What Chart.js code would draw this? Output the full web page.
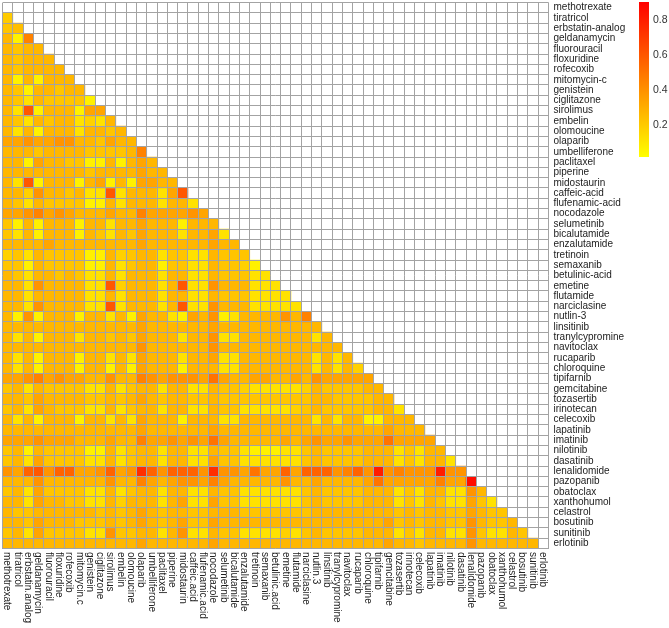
<!DOCTYPE html>
<html><head><meta charset="utf-8">
<script src="https://cdn.jsdelivr.net/npm/chart.js@4.4.1/dist/chart.umd.min.js"></script>
<style>
html,body{margin:0;padding:0;background:#fff;}
#main{position:absolute;left:0;top:0;width:669px;height:628px;}
#cb{position:absolute;left:639px;top:2px;width:30px;height:155px;}
</style></head><body>
<div id="main"><canvas id="c1"></canvas></div>
<div id="cb"><canvas id="c2"></canvas></div>
<script>
const rowLabels = ['methotrexate','tiratricol','erbstatin-analog','geldanamycin','fluorouracil','floxuridine','rofecoxib','mitomycin-c','genistein','ciglitazone','sirolimus','embelin','olomoucine','olaparib','umbelliferone','paclitaxel','piperine','midostaurin','caffeic-acid','flufenamic-acid','nocodazole','selumetinib','bicalutamide','enzalutamide','tretinoin','semaxanib','betulinic-acid','emetine','flutamide','narciclasine','nutlin-3','linsitinib','tranylcypromine','navitoclax','rucaparib','chloroquine','tipifarnib','gemcitabine','tozasertib','irinotecan','celecoxib','lapatinib','imatinib','nilotinib','dasatinib','lenalidomide','pazopanib','obatoclax','xanthohumol','celastrol','bosutinib','sunitinib','erlotinib'];
const colLabels = ['methotrexate','tiratricol','erbstatin.analog','geldanamycin','fluorouracil','floxuridine','rofecoxib','mitomycin.c','genistein','ciglitazone','sirolimus','embelin','olomoucine','olaparib','umbelliferone','paclitaxel','piperine','midostaurin','caffeic.acid','flufenamic.acid','nocodazole','selumetinib','bicalutamide','enzalutamide','tretinoin','semaxanib','betulinic.acid','emetine','flutamide','narciclasine','nutlin.3','linsitinib','tranylcypromine','navitoclax','rucaparib','chloroquine','tipifarnib','gemcitabine','tozasertib','irinotecan','celecoxib','lapatinib','imatinib','nilotinib','dasatinib','lenalidomide','pazopanib','obatoclax','xanthohumol','celastrol','bosutinib','sunitinib','erlotinib'];
const colorbarTicks = [0.2, 0.4, 0.6, 0.8];
const colorMin = 0.02, colorMax = 0.9;

// lower triangle: row i holds values for columns 0..i-1
const lowerTriangle = [
/* methotrexate */ [],
/* tiratricol */ [0.2],
/* erbstatin-analog */ [0.22,0.24],
/* geldanamycin */ [0.27,0.07,0.45],
/* fluorouracil */ [0.27,0.22,0.27,0.27],
/* floxuridine */ [0.27,0.22,0.27,0.27,0.27],
/* rofecoxib */ [0.27,0.22,0.27,0.27,0.27,0.27],
/* mitomycin-c */ [0.27,0.07,0.27,0.07,0.27,0.27,0.27],
/* genistein */ [0.27,0.22,0.07,0.27,0.27,0.22,0.27,0.27],
/* ciglitazone */ [0.27,0.22,0.12,0.27,0.22,0.22,0.22,0.22,0.07],
/* sirolimus */ [0.27,0.12,0.6,0.07,0.27,0.27,0.27,0.07,0.33,0.33],
/* embelin */ [0.27,0.22,0.12,0.27,0.22,0.27,0.27,0.12,0.18,0.12,0.27],
/* olomoucine */ [0.27,0.12,0.27,0.07,0.27,0.27,0.27,0.12,0.27,0.27,0.22,0.27],
/* olaparib */ [0.33,0.33,0.39,0.33,0.33,0.39,0.39,0.27,0.27,0.22,0.33,0.27,0.27],
/* umbelliferone */ [0.27,0.27,0.27,0.22,0.27,0.27,0.27,0.27,0.22,0.22,0.22,0.22,0.27,0.45],
/* paclitaxel */ [0.27,0.27,0.07,0.33,0.27,0.27,0.22,0.22,0.07,0.07,0.27,0.07,0.27,0.33,0.27],
/* piperine */ [0.27,0.27,0.27,0.27,0.27,0.27,0.27,0.27,0.22,0.27,0.27,0.27,0.27,0.33,0.27,0.27],
/* midostaurin */ [0.27,0.12,0.6,0.07,0.27,0.27,0.27,0.07,0.27,0.33,0.07,0.27,0.07,0.33,0.33,0.27,0.27],
/* caffeic-acid */ [0.27,0.27,0.18,0.39,0.27,0.27,0.22,0.27,0.12,0.12,0.6,0.12,0.27,0.27,0.27,0.12,0.33,0.6],
/* flufenamic-acid */ [0.27,0.22,0.12,0.27,0.22,0.22,0.22,0.22,0.07,0.07,0.27,0.12,0.27,0.27,0.27,0.12,0.27,0.27,0.12],
/* nocodazole */ [0.33,0.33,0.39,0.45,0.33,0.39,0.33,0.27,0.27,0.27,0.33,0.27,0.27,0.45,0.33,0.33,0.33,0.33,0.39,0.33],
/* selumetinib */ [0.22,0.07,0.27,0.07,0.27,0.27,0.27,0.07,0.27,0.27,0.12,0.27,0.27,0.33,0.27,0.27,0.27,0.07,0.27,0.27,0.27],
/* bicalutamide */ [0.22,0.12,0.27,0.07,0.27,0.27,0.27,0.07,0.27,0.22,0.12,0.27,0.22,0.33,0.27,0.27,0.27,0.12,0.27,0.27,0.33,0.12],
/* enzalutamide */ [0.27,0.27,0.27,0.27,0.33,0.27,0.27,0.27,0.27,0.27,0.27,0.27,0.27,0.33,0.27,0.27,0.27,0.27,0.27,0.27,0.33,0.27,0.27],
/* tretinoin */ [0.18,0.22,0.12,0.27,0.22,0.22,0.22,0.22,0.07,0.07,0.27,0.18,0.22,0.27,0.27,0.12,0.22,0.22,0.12,0.12,0.27,0.22,0.22,0.22],
/* semaxanib */ [0.22,0.22,0.07,0.27,0.22,0.22,0.22,0.22,0.07,0.07,0.27,0.12,0.22,0.27,0.27,0.07,0.22,0.22,0.12,0.12,0.27,0.22,0.22,0.18,0.07],
/* betulinic-acid */ [0.27,0.22,0.12,0.27,0.27,0.22,0.27,0.22,0.12,0.12,0.27,0.12,0.27,0.27,0.27,0.12,0.27,0.27,0.12,0.12,0.27,0.22,0.22,0.22,0.12,0.12],
/* emetine */ [0.27,0.27,0.12,0.39,0.27,0.27,0.27,0.27,0.12,0.12,0.6,0.18,0.27,0.27,0.27,0.12,0.27,0.6,0.12,0.12,0.39,0.27,0.27,0.27,0.12,0.12,0.12],
/* flutamide */ [0.27,0.27,0.12,0.27,0.27,0.27,0.27,0.27,0.12,0.12,0.27,0.12,0.27,0.27,0.27,0.12,0.27,0.27,0.12,0.12,0.27,0.22,0.22,0.22,0.12,0.12,0.12,0.12],
/* narciclasine */ [0.27,0.27,0.12,0.39,0.27,0.27,0.27,0.27,0.12,0.12,0.6,0.12,0.27,0.27,0.27,0.12,0.27,0.6,0.12,0.12,0.39,0.27,0.27,0.27,0.12,0.12,0.12,0.12,0.12],
/* nutlin-3 */ [0.27,0.07,0.39,0.07,0.27,0.27,0.27,0.07,0.27,0.27,0.12,0.27,0.07,0.33,0.27,0.27,0.12,0.07,0.33,0.27,0.39,0.07,0.12,0.27,0.27,0.27,0.27,0.39,0.27,0.45],
/* linsitinib */ [0.27,0.27,0.27,0.27,0.27,0.27,0.27,0.27,0.27,0.27,0.27,0.27,0.27,0.33,0.27,0.27,0.27,0.27,0.27,0.27,0.33,0.27,0.27,0.27,0.27,0.27,0.27,0.27,0.27,0.27,0.27],
/* tranylcypromine */ [0.27,0.12,0.27,0.07,0.27,0.27,0.27,0.12,0.27,0.27,0.22,0.27,0.22,0.33,0.27,0.27,0.27,0.12,0.27,0.27,0.39,0.12,0.12,0.27,0.27,0.27,0.27,0.27,0.27,0.27,0.12,0.27],
/* navitoclax */ [0.27,0.27,0.27,0.27,0.27,0.27,0.27,0.27,0.27,0.27,0.27,0.27,0.27,0.39,0.27,0.27,0.27,0.27,0.27,0.27,0.39,0.27,0.27,0.27,0.27,0.27,0.27,0.27,0.27,0.27,0.27,0.27,0.27],
/* rucaparib */ [0.27,0.12,0.27,0.07,0.27,0.27,0.27,0.07,0.27,0.27,0.12,0.27,0.12,0.33,0.27,0.27,0.27,0.12,0.27,0.27,0.33,0.12,0.12,0.27,0.27,0.27,0.27,0.27,0.27,0.27,0.12,0.27,0.12,0.27],
/* chloroquine */ [0.27,0.12,0.27,0.07,0.27,0.27,0.27,0.07,0.27,0.27,0.07,0.27,0.07,0.33,0.27,0.27,0.27,0.07,0.27,0.27,0.27,0.12,0.12,0.27,0.27,0.27,0.27,0.27,0.27,0.27,0.12,0.27,0.12,0.27,0.18],
/* tipifarnib */ [0.33,0.33,0.39,0.45,0.33,0.39,0.33,0.33,0.27,0.27,0.39,0.27,0.27,0.45,0.39,0.33,0.39,0.39,0.39,0.33,0.5,0.33,0.27,0.27,0.33,0.33,0.27,0.27,0.33,0.27,0.39,0.33,0.33,0.33,0.33,0.33],
/* gemcitabine */ [0.22,0.27,0.12,0.27,0.22,0.22,0.22,0.22,0.12,0.12,0.27,0.12,0.22,0.27,0.27,0.12,0.27,0.27,0.12,0.12,0.27,0.22,0.22,0.18,0.12,0.12,0.12,0.12,0.12,0.18,0.27,0.22,0.22,0.22,0.22,0.27,0.27],
/* tozasertib */ [0.27,0.27,0.22,0.33,0.27,0.27,0.27,0.27,0.22,0.22,0.27,0.22,0.27,0.33,0.27,0.22,0.27,0.27,0.22,0.22,0.27,0.22,0.22,0.22,0.22,0.22,0.22,0.22,0.22,0.22,0.27,0.27,0.22,0.22,0.22,0.22,0.27,0.27],
/* irinotecan */ [0.22,0.27,0.12,0.33,0.27,0.22,0.22,0.22,0.12,0.12,0.27,0.12,0.22,0.27,0.27,0.12,0.27,0.27,0.12,0.12,0.27,0.22,0.22,0.12,0.12,0.12,0.12,0.12,0.18,0.22,0.27,0.22,0.22,0.22,0.22,0.22,0.27,0.27,0.12],
/* celecoxib */ [0.27,0.12,0.27,0.07,0.27,0.27,0.27,0.07,0.27,0.27,0.12,0.27,0.12,0.33,0.27,0.27,0.27,0.07,0.27,0.27,0.27,0.12,0.12,0.27,0.27,0.27,0.27,0.27,0.27,0.27,0.12,0.27,0.12,0.27,0.27,0.07,0.07,0.27,0.27,0.27],
/* lapatinib */ [0.27,0.27,0.27,0.27,0.27,0.27,0.27,0.27,0.27,0.27,0.27,0.27,0.27,0.33,0.27,0.27,0.27,0.27,0.27,0.27,0.33,0.27,0.27,0.27,0.27,0.27,0.27,0.27,0.27,0.27,0.27,0.27,0.27,0.27,0.27,0.27,0.27,0.33,0.27,0.27,0.27],
/* imatinib */ [0.33,0.33,0.33,0.39,0.33,0.33,0.33,0.27,0.27,0.27,0.33,0.27,0.27,0.45,0.33,0.33,0.39,0.33,0.39,0.33,0.5,0.33,0.27,0.27,0.27,0.27,0.27,0.33,0.27,0.33,0.39,0.33,0.33,0.39,0.33,0.33,0.33,0.5,0.33,0.33,0.33,0.33],
/* nilotinib */ [0.22,0.27,0.07,0.27,0.22,0.22,0.22,0.22,0.07,0.07,0.27,0.12,0.22,0.27,0.27,0.12,0.27,0.27,0.12,0.12,0.27,0.22,0.22,0.12,0.07,0.07,0.07,0.12,0.12,0.22,0.27,0.22,0.22,0.22,0.22,0.27,0.27,0.27,0.12,0.22,0.12,0.27,0.27],
/* dasatinib */ [0.22,0.27,0.12,0.33,0.22,0.22,0.22,0.22,0.12,0.12,0.27,0.12,0.22,0.27,0.27,0.12,0.27,0.27,0.12,0.12,0.33,0.22,0.22,0.12,0.12,0.12,0.12,0.12,0.12,0.22,0.27,0.22,0.22,0.22,0.22,0.27,0.27,0.27,0.12,0.22,0.12,0.27,0.27,0.12],
/* lenalidomide */ [0.39,0.33,0.56,0.6,0.39,0.56,0.56,0.33,0.33,0.39,0.56,0.33,0.39,0.74,0.56,0.39,0.56,0.56,0.56,0.39,0.74,0.39,0.39,0.33,0.5,0.33,0.33,0.56,0.33,0.56,0.56,0.56,0.39,0.45,0.56,0.39,0.8,0.39,0.45,0.39,0.39,0.39,0.8,0.39,0.39],
/* pazopanib */ [0.27,0.27,0.27,0.39,0.27,0.27,0.27,0.27,0.27,0.27,0.39,0.27,0.27,0.45,0.33,0.27,0.33,0.39,0.39,0.33,0.45,0.33,0.27,0.27,0.27,0.27,0.27,0.39,0.27,0.27,0.33,0.27,0.27,0.27,0.27,0.33,0.5,0.33,0.33,0.33,0.33,0.33,0.45,0.33,0.33,0.86],
/* obatoclax */ [0.22,0.27,0.12,0.33,0.22,0.22,0.22,0.22,0.12,0.12,0.27,0.12,0.22,0.27,0.27,0.12,0.27,0.27,0.12,0.12,0.27,0.22,0.22,0.12,0.12,0.12,0.12,0.12,0.12,0.22,0.27,0.22,0.22,0.22,0.22,0.27,0.27,0.27,0.12,0.22,0.12,0.27,0.27,0.12,0.12,0.39,0.27],
/* xanthohumol */ [0.27,0.27,0.12,0.33,0.27,0.27,0.22,0.22,0.12,0.12,0.27,0.18,0.27,0.27,0.27,0.12,0.27,0.33,0.12,0.12,0.33,0.22,0.22,0.12,0.12,0.12,0.12,0.12,0.12,0.22,0.27,0.22,0.22,0.22,0.22,0.27,0.27,0.27,0.12,0.22,0.12,0.27,0.22,0.12,0.12,0.33,0.22,0.12],
/* celastrol */ [0.27,0.22,0.22,0.27,0.27,0.27,0.27,0.27,0.27,0.22,0.27,0.22,0.27,0.33,0.27,0.22,0.27,0.27,0.22,0.22,0.27,0.27,0.27,0.22,0.22,0.22,0.22,0.22,0.22,0.22,0.27,0.27,0.27,0.27,0.27,0.27,0.27,0.27,0.22,0.27,0.22,0.27,0.27,0.22,0.22,0.33,0.27,0.22,0.22],
/* bosutinib */ [0.27,0.27,0.22,0.33,0.27,0.27,0.27,0.22,0.22,0.22,0.27,0.22,0.27,0.33,0.27,0.22,0.27,0.33,0.22,0.22,0.33,0.27,0.27,0.27,0.27,0.27,0.27,0.27,0.27,0.27,0.27,0.27,0.27,0.27,0.27,0.27,0.27,0.33,0.22,0.27,0.22,0.27,0.27,0.22,0.22,0.39,0.27,0.22,0.22,0.27],
/* sunitinib */ [0.22,0.27,0.12,0.33,0.22,0.22,0.22,0.22,0.12,0.12,0.39,0.22,0.22,0.27,0.27,0.12,0.27,0.39,0.12,0.12,0.27,0.22,0.22,0.12,0.12,0.12,0.12,0.18,0.12,0.22,0.27,0.22,0.22,0.22,0.22,0.27,0.27,0.27,0.12,0.22,0.12,0.27,0.27,0.12,0.12,0.39,0.22,0.12,0.12,0.27,0.22],
/* erlotinib */ [0.27,0.27,0.27,0.27,0.27,0.27,0.27,0.27,0.27,0.27,0.27,0.27,0.27,0.33,0.27,0.27,0.27,0.27,0.27,0.27,0.33,0.27,0.27,0.27,0.27,0.27,0.27,0.27,0.27,0.27,0.27,0.27,0.27,0.27,0.27,0.27,0.27,0.33,0.27,0.27,0.22,0.27,0.27,0.27,0.27,0.39,0.27,0.27,0.27,0.27,0.27,0.27]
];

const FONT = '"Liberation Sans", Arial, Helvetica, sans-serif';
Chart.defaults.font.family = FONT;
const gridColor = '#a3a3a3';

function heatColor(v) {
  const t = Math.max(0, Math.min(1, (v - colorMin) / (colorMax - colorMin)));
  return 'rgb(255,' + Math.round(255 * (1 - t)) + ',0)';
}

lowerTriangle.forEach((row, i) => { if (row.length !== i) console.error('row length mismatch', rowLabels[i], row.length); });

const datasets = [];
for (let r = 1; r < rowLabels.length; r++) {
  const row = lowerTriangle[r];
  datasets.push({
    label: rowLabels[r],
    data: colLabels.map((_, j) => (j < row.length ? [r, r + 1] : null)),
    backgroundColor: colLabels.map((_, j) => (j < row.length ? heatColor(row[j]) : 'rgba(0,0,0,0)')),
    borderWidth: 0,
    grouped: false,
    barPercentage: 1,
    categoryPercentage: 1
  });
}

const xLabelPlugin = {
  id: 'xLabels',
  afterDraw(chart) {
    const { ctx, chartArea } = chart;
    const xs = chart.scales.x;
    ctx.save();
    ctx.font = '10px ' + FONT;
    ctx.fillStyle = '#222';
    ctx.textAlign = 'left';
    ctx.textBaseline = 'middle';
    colLabels.forEach((lab, i) => {
      const px = xs.getPixelForTick(i);
      ctx.save();
      ctx.translate(px - 0.5, chartArea.bottom + 3.5);
      ctx.rotate(Math.PI / 2);
      ctx.fillText(lab, 0, 0);
      ctx.restore();
    });
    ctx.restore();
  }
};

new Chart(document.getElementById('c1'), {
  type: 'bar',
  data: { labels: colLabels, datasets },
  plugins: [xLabelPlugin],
  options: {
    responsive: true,
    maintainAspectRatio: false,
    animation: false,
    layout: { padding: { left: 2.5, top: 2.5, right: 0, bottom: 0 } },
    plugins: { legend: { display: false }, tooltip: { enabled: false } },
    scales: {
      x: {
        type: 'category', offset: true,
        grid: { offset: true, color: gridColor, lineWidth: 1, drawTicks: false, z: 1 },
        border: { display: false },
        ticks: { display: false },
        afterFit(s) { s.height = 79.5; s.paddingLeft = 0; s.paddingRight = 0; }
      },
      y: {
        type: 'linear', min: 0, max: rowLabels.length, reverse: true,
        grid: { color: gridColor, lineWidth: 1, drawTicks: false, z: 1 },
        border: { display: false },
        ticks: { display: false },
        afterBuildTicks(s) { s.ticks = rowLabels.map((_, i) => ({ value: i })).concat([{ value: rowLabels.length }]); },
        afterFit(s) { s.width = 0; s.paddingTop = 0; s.paddingBottom = 0; }
      },
      yLabels: {
        type: 'category', labels: rowLabels, position: 'right', offset: true,
        grid: { display: false, drawTicks: false },
        border: { display: false },
        ticks: { autoSkip: false, padding: 5, color: '#222', font: { size: 10 } },
        afterFit(s) { s.width = 120.5; s.paddingTop = 0; s.paddingBottom = 0; }
      }
    }
  }
});

new Chart(document.getElementById('c2'), {
  type: 'bar',
  data: {
    labels: [''],
    datasets: [{
      data: [[colorMin, colorMax]],
      backgroundColor(ctx) {
        const ch = ctx.chart;
        if (!ch.chartArea) return 'rgba(0,0,0,0)';
        const ys = ch.scales.y;
        const g = ch.ctx.createLinearGradient(0, ys.getPixelForValue(colorMin), 0, ys.getPixelForValue(colorMax));
        g.addColorStop(0, heatColor(colorMin));
        g.addColorStop(1, heatColor(colorMax));
        return g;
      },
      borderWidth: 0, barPercentage: 1, categoryPercentage: 1
    }]
  },
  options: {
    responsive: true, maintainAspectRatio: false, animation: false,
    layout: { padding: 0 },
    plugins: { legend: { display: false }, tooltip: { enabled: false } },
    scales: {
      x: { display: false },
      y: {
        type: 'linear', min: colorMin, max: colorMax, position: 'right',
        grid: { display: false, drawTicks: false },
        border: { display: false },
        ticks: { color: '#333', font: { size: 10.5 }, padding: 4, callback: v => v.toFixed(1) },
        afterBuildTicks(s) { s.ticks = colorbarTicks.map(v => ({ value: v })); },
        afterFit(s) { s.width = 20; s.paddingTop = 0; s.paddingBottom = 0; }
      }
    }
  }
});
</script>
</body></html>
